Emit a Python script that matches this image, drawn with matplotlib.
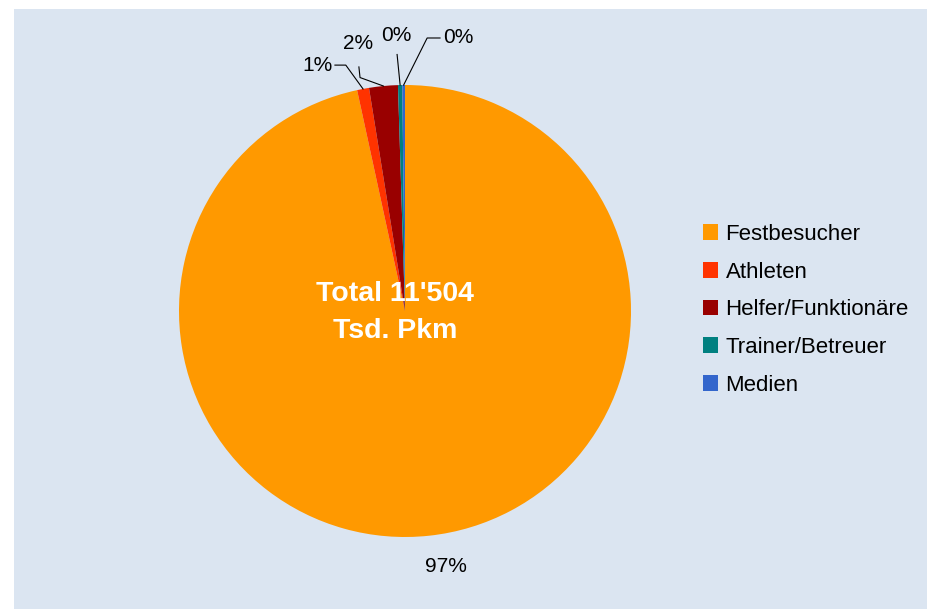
import numpy as np
import matplotlib
matplotlib.use('Agg')
import matplotlib.pyplot as plt
from matplotlib.patches import Rectangle, Patch

plt.rcParams['font.family'] = ['Liberation Sans', 'DejaVu Sans']

# Daten (Tsd. Personenkilometer)
categories = ['Festbesucher', 'Athleten', 'Helfer/Funktionäre', 'Trainer/Betreuer', 'Medien']
values = [11113, 98, 236, 35, 22]
colors = ['#FF9900', '#FF3300', '#990000', '#008080', '#3366CC']
total_label = "Total 11'504\nTsd. Pkm"

# Label-Positionen (Datenkoordinaten, Radius 1) und Knickpunkte der Führungslinien
label_pos = [(0.18, -1.13), (-0.385, 1.088), (-0.208, 1.184), (-0.04, 1.217), (0.235, 1.208)]
elbows = [None,
          [(-0.31, 1.088), (-0.262, 1.088)],
          [(-0.204, 1.080), (-0.199, 1.033)],
          [(-0.035, 1.135)],
          [(0.155, 1.208), (0.098, 1.208)]]

W, H = 928, 609
fig = plt.figure(figsize=(W / 100, H / 100), dpi=100)
fig.patch.set_facecolor('white')
fig.add_artist(Rectangle((14 / W, 0), 1 - 14 / W, 1 - 9 / H, transform=fig.transFigure,
                         facecolor='#DBE5F1', edgecolor='none', zorder=0))

cx, cy, r = 405, 311, 226
ax = fig.add_axes([(cx - r) / W, (H - cy - r) / H, 2 * r / W, 2 * r / H])
ax.set_axis_off()
wedges, _ = ax.pie(values, colors=colors, startangle=90, counterclock=False, radius=1,
                   wedgeprops=dict(linewidth=0))
ax.set_xlim(-1, 1)
ax.set_ylim(-1, 1)

pct = np.array(values) / sum(values) * 100
for i, w in enumerate(wedges):
    txt = f'{pct[i]:.0f}%'
    lx, ly = label_pos[i]
    ax.text(lx, ly, txt, ha='center', va='center', fontsize=15, color='black', clip_on=False)
    if elbows[i] is None:
        continue
    mid = np.deg2rad((w.theta1 + w.theta2) / 2)
    edge = (np.cos(mid), np.sin(mid))
    pts = elbows[i] + [edge]
    ax.plot([p[0] for p in pts], [p[1] for p in pts], color='black', lw=0.8, clip_on=False)

ax.text(-0.045, -0.008, total_label, ha='center', va='center', fontsize=20.5, fontweight='bold',
        color='white', linespacing=1.55)

handles = [Patch(facecolor=c, edgecolor='none') for c in colors]
fig.legend(handles, categories, loc='upper left', bbox_to_anchor=(694 / W, 1 - 215 / H),
           frameon=False, fontsize=16, handlelength=0.7, handleheight=0.7,
           handletextpad=0.32, labelspacing=0.75, borderaxespad=0)

plt.savefig('out.png', dpi=100)
